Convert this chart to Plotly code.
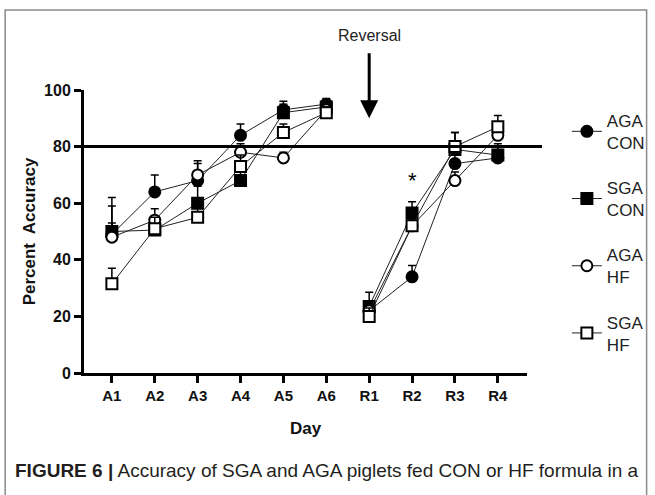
import plotly.graph_objects as go

days = ["A1", "A2", "A3", "A4", "A5", "A6", "R1", "R2", "R3", "R4"]
xpos = [1, 2, 3, 4, 5, 6, 7, 8, 9, 10]
n_acq = 6  # acquisition days; reversal starts after

aga_con = [49, 64, 68, 84, 93, 95, 22, 34, 74, 76]
aga_con_err = [10, 6, 6, 4, 3, 2, 3, 4, 4, 5]
sga_con = [50, 50.5, 60, 68, 92, 94, 23.5, 56.5, 79, 77]
sga_con_err = [12, 4, 6, 4, 3, 2, 5, 4, 6, 3]
aga_hf = [48, 54, 70, 78, 76, 93, 22, 52, 68, 84]
aga_hf_err = [5, 4, 5, 3, 2, 2, 3, 3, 3, 3]
sga_hf = [31.5, 51, 55, 73, 85, 92, 20, 52, 80, 87]
sga_hf_err = [5.5, 4, 5, 4, 3, 2, 3, 3, 5, 4]

series = [
    ("AGA<br>CON", aga_con, aga_con_err, "circle", "black"),
    ("SGA<br>CON", sga_con, sga_con_err, "square", "black"),
    ("AGA<br>HF", aga_hf, aga_hf_err, "circle", "white"),
    ("SGA<br>HF", sga_hf, sga_hf_err, "square", "white"),
]

FONT = "Liberation Sans, Arial, sans-serif"


def split(lst, fill):
    return list(lst[:n_acq]) + [fill] + list(lst[n_acq:])


fig = go.Figure()
for i, (name, vals, errs, sym, fill) in enumerate(series):
    fig.add_trace(go.Scatter(
        x=split(xpos, None), y=split(vals, None), name=name, mode="lines+markers",
        legendgroup=f"g{i}", connectgaps=False,
        line=dict(color="#222222", width=1),
        marker=dict(symbol=sym, size=11, color=fill, line=dict(color="black", width=2)),
        error_y=dict(type="data", array=split(errs, 0), arrayminus=[0] * (len(errs) + 1),
                     symmetric=False, color="black", thickness=1.5, width=4),
    ))

fig.add_shape(type="line", xref="paper", yref="y", x0=0, x1=1.034, y0=80, y1=80,
              line=dict(color="black", width=3))

# frame around figure
fig.add_shape(type="rect", xref="paper", yref="paper", x0=-0.178, x1=1.27, y0=-0.5, y1=1.2827,
              line=dict(color="#8a8a8a", width=1.5), layer="below")

fig.add_annotation(x=7, y=90, xref="x", yref="y", text="Reversal", showarrow=True,
                   ax=0, ay=-83, arrowhead=2, arrowsize=1.2, arrowwidth=3, arrowcolor="black",
                   startstandoff=8, font=dict(family=FONT, size=16, color="#222"))
fig.add_annotation(x=8, y=68, xref="x", yref="y", text="*", showarrow=False,
                   font=dict(family=FONT, size=22, color="black"))
fig.add_annotation(x=-0.16, y=-0.343, xref="paper", yref="paper", xanchor="left", yanchor="middle",
                   text="<b>FIGURE 6 |</b> Accuracy of SGA and AGA piglets fed CON or HF formula in a",
                   showarrow=False, font=dict(family=FONT, size=19, color="#231f20"))

fig.update_layout(
    width=655, height=495,
    margin=dict(l=84, r=128, t=90, b=122, autoexpand=False),
    paper_bgcolor="white", plot_bgcolor="white",
    font=dict(family=FONT, color="black"),
    showlegend=True,
    legend=dict(x=1.09, y=0.955, xanchor="left", yanchor="top", tracegroupgap=20,
                itemwidth=30, font=dict(family=FONT, size=17, color="#222"),
                bgcolor="rgba(0,0,0,0)"),
    xaxis=dict(range=[0.35, 10.68], tickvals=xpos, ticktext=[f"<b>{d}</b>" for d in days],
               showline=True, linecolor="black", linewidth=3, ticks="outside", ticklen=7,
               tickwidth=2.5, tickcolor="black", showgrid=False, zeroline=False,
               tickfont=dict(family=FONT, size=15, color="#111"),
               title=dict(text="<b>Day</b>", font=dict(family=FONT, size=17, color="#111"), standoff=20)),
    yaxis=dict(range=[0, 100], tickvals=[0, 20, 40, 60, 80, 100],
               ticktext=["<b>0</b>", "<b>20</b>", "<b>40</b>", "<b>60</b>", "<b>80</b>", "<b>100</b>"],
               showline=True, linecolor="black", linewidth=3, ticks="outside", ticklen=7,
               tickwidth=2.5, tickcolor="black", showgrid=False, zeroline=False,
               tickfont=dict(family=FONT, size=16, color="#111"),
               title=dict(text="<b>Percent  Accuracy</b>", font=dict(family=FONT, size=17, color="#111"), standoff=5)),
)

fig.write_html("out.html")
